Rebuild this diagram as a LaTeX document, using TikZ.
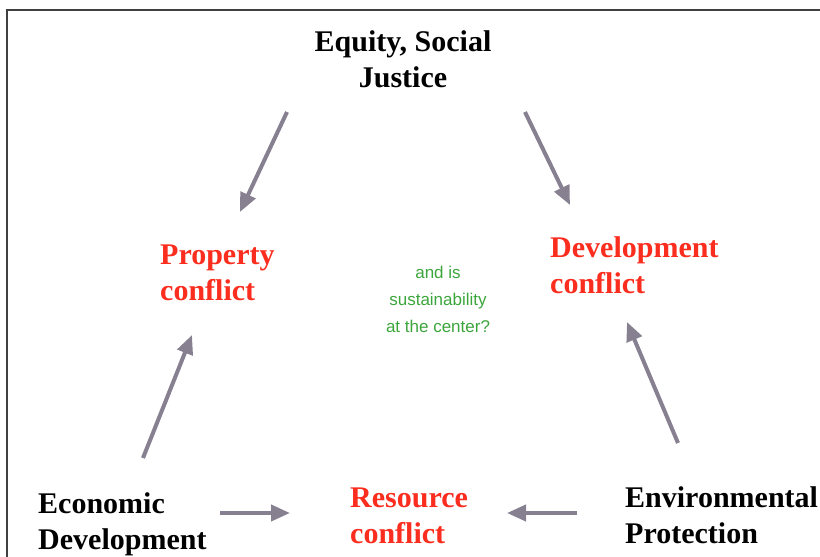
\documentclass[tikz,border=0pt]{standalone}
\usepackage{fontspec}
\setmainfont{Liberation Serif}
\newfontfamily\greenfont{Liberation Sans}
\usetikzlibrary{arrows.meta}
\definecolor{arrowgray}{RGB}{135,128,145}
\definecolor{conflictred}{RGB}{250,45,30}
\definecolor{centergreen}{RGB}{60,165,60}
\tikzset{
  goal/.style={inner sep=0pt, align=left, anchor=west, font=\fontsize{30}{36}\selectfont\bfseries},
  conflict/.style={goal, text=conflictred},
  flow/.style={line width=4pt, arrowgray, -{Triangle[length=19pt,width=16pt]}}
}
\begin{document}
\begin{tikzpicture}[x=1pt,y=-1pt]
  \useasboundingbox (0,0) rectangle (820,557);
  \clip (0,0) rectangle (820,557);
  \draw[line width=1.5pt, black!75] (830,10) -- (7,10) -- (7,570);
  % the three goals
  \node[goal, anchor=center, align=center] (equity) at (403,59){Equity, Social\\Justice};
  \node[goal] (economic) at (38,524){Economic\\Development};
  \node[goal] (environment) at (625,515){Environmental\\Protection};
  % the conflicts between them
  \node[conflict] (property) at (160,273){Property\\conflict};
  \node[conflict] (development) at (550,265){Development\\conflict};
  \node[conflict] (resource) at (350,516){Resource\\conflict};
  \node[inner sep=0pt, align=center, text=centergreen, font=\greenfont\fontsize{17}{27}\selectfont] (center) at (438,299){and is\\sustainability\\at the center?};
  % arrows
  \draw[flow]([shift={(-116,53)}]equity.center)--([shift={(80,-61)}]property.west);
  \draw[flow]([shift={(122,53)}]equity.center)--([shift={(20,-60)}]development.west);
  \draw[flow]([shift={(105,-66)}]economic.west)--([shift={(32,62)}]property.west);
  \draw[flow]([shift={(53,-72)}]environment.west)--([shift={(77,57)}]development.west);
  \draw[flow]([shift={(182,-11)}]economic.west)--([shift={(-60,-3)}]resource.west);
  \draw[flow]([shift={(-48,-2)}]environment.west)--([shift={(157,-3)}]resource.west);
\end{tikzpicture}
\end{document}
